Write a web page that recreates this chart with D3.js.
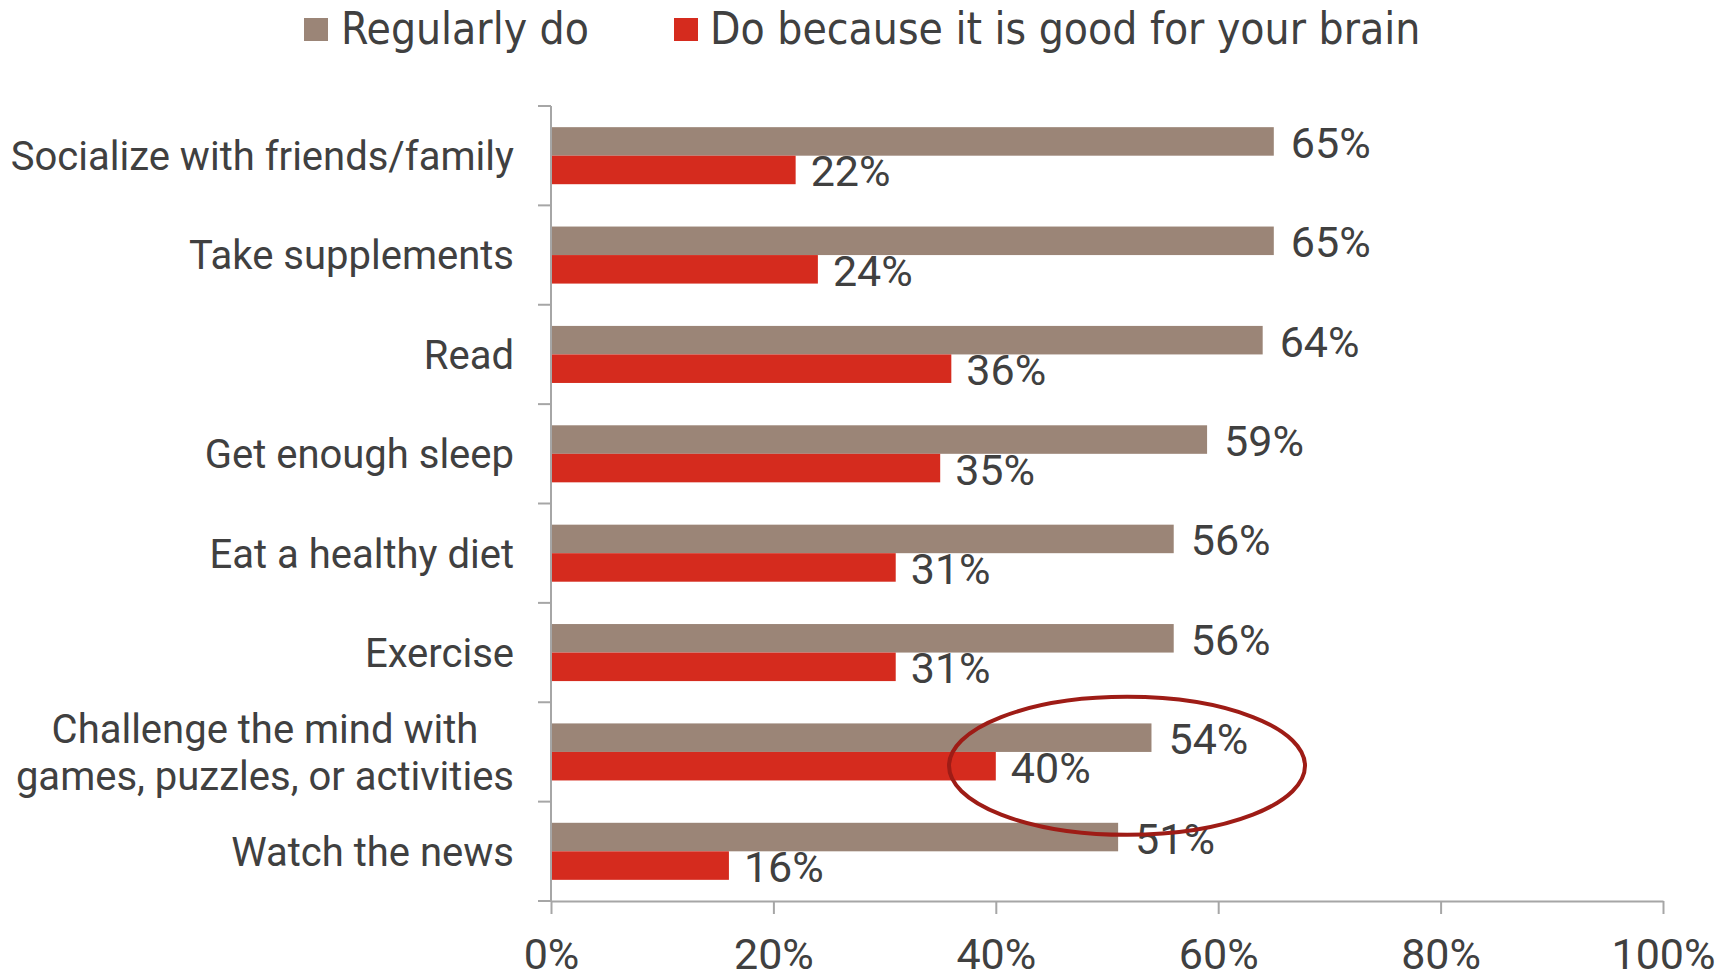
<!DOCTYPE html>
<html>
<head>
<meta charset="utf-8">
<script src="https://cdn.jsdelivr.net/npm/d3@7"></script>
<style>
  html, body { margin: 0; padding: 0; background: #fff; }
  svg { display: block; }
  .lbl { font-family: Roboto, "Open Sans", sans-serif; fill: #404040; }
  .leg { font-family: "Liberation Sans Narrow", "DejaVu Sans Condensed", sans-serif; fill: #404040; }
</style>
</head>
<body>
<svg id="chart" width="1729" height="980"></svg>
<script>
// Activities, top to bottom
const categories = [
  "Socialize with friends/family",
  "Take supplements",
  "Read",
  "Get enough sleep",
  "Eat a healthy diet",
  "Exercise",
  "Challenge the mind with\ngames, puzzles, or activities",
  "Watch the news"
];
const seriesNames = ["Regularly do", "Do because it is good for your brain"];
const regularlyDo = [65, 65, 64, 59, 56, 56, 54, 51];
const forBrain = [22, 24, 36, 35, 31, 31, 40, 16];
const xTicks = [0, 20, 40, 60, 80, 100];
const highlighted = "Challenge the mind with\ngames, puzzles, or activities";

const colors = { "Regularly do": "#9b8577", "Do because it is good for your brain": "#d52b1e" };
const textColor = "#404040";
const axisColor = "#a6a6a6";

const svg = d3.select("#chart");
const plot = { left: 551, right: 1663, top: 106, bottom: 901 };

const x = d3.scaleLinear().domain([0, 100]).range([plot.left, plot.right]);
const y = d3.scaleBand().domain(categories).range([plot.top, plot.bottom]).padding(0);
const ySub = d3.scaleBand().domain(seriesNames)
  .range([y.bandwidth() * 0.213, y.bandwidth() * 0.787]).padding(0);

const rows = categories.map((c, i) => ({ cat: c, values: [
  { s: seriesNames[0], v: regularlyDo[i] },
  { s: seriesNames[1], v: forBrain[i] }
]}));

// Bars
const g = svg.append("g");
const rowG = g.selectAll("g.row").data(rows).join("g")
  .attr("class", "row")
  .attr("transform", d => `translate(0,${y(d.cat)})`);

rowG.selectAll("rect").data(d => d.values).join("rect")
  .attr("x", x(0))
  .attr("y", d => ySub(d.s))
  .attr("width", d => x(d.v) - x(0))
  .attr("height", ySub.bandwidth())
  .attr("fill", d => colors[d.s]);

// Value labels
rowG.selectAll("text.val").data(d => d.values).join("text")
  .attr("class", "lbl val")
  .attr("x", d => x(d.v) + (d.s === seriesNames[0] ? 17 : 15))
  .attr("y", d => ySub(d.s) + ySub.bandwidth() / 2 + 1)
  .attr("dy", "0.36em")
  .attr("font-size", 43)
  .text(d => d.v + "%");

// Y axis line and boundary ticks
svg.append("line")
  .attr("x1", x(0)).attr("x2", x(0))
  .attr("y1", plot.top).attr("y2", plot.bottom)
  .attr("stroke", axisColor).attr("stroke-width", 2);
const bounds = categories.map(c => y(c)).concat([y(categories[categories.length - 1]) + y.step()]);
svg.selectAll("line.ytick").data(bounds).join("line")
  .attr("class", "ytick")
  .attr("x1", x(0) - 13).attr("x2", x(0))
  .attr("y1", d => d).attr("y2", d => d)
  .attr("stroke", axisColor).attr("stroke-width", 2);

// Category labels: multi-line labels are centred among themselves, block right-aligned
const labelRight = 514;
const lineH = 47;
categories.forEach(c => {
  const lines = c.split("\n");
  const cy = y(c) + y.bandwidth() / 2;
  const t = svg.append("text").attr("class", "lbl").attr("font-size", 40);
  lines.forEach((ln, i) => {
    t.append("tspan").attr("y", cy + (i - (lines.length - 1) / 2) * lineH).attr("dy", "0.36em").text(ln);
  });
  if (lines.length === 1) {
    t.attr("text-anchor", "end").selectAll("tspan").attr("x", labelRight);
  } else {
    const w = d3.max(t.selectAll("tspan").nodes(), n => n.getComputedTextLength());
    t.attr("text-anchor", "middle").selectAll("tspan").attr("x", labelRight - w / 2);
  }
});

// X axis
const xAxis = svg.append("g")
  .attr("transform", `translate(0,${plot.bottom})`)
  .call(d3.axisBottom(x).tickValues(xTicks).tickSize(13).tickSizeOuter(0).tickPadding(24)
    .tickFormat(d => d + "%"));
xAxis.select(".domain").attr("stroke", axisColor).attr("stroke-width", 2);
xAxis.selectAll(".tick line").attr("stroke", axisColor).attr("stroke-width", 2);
xAxis.selectAll(".tick text")
  .attr("class", "lbl")
  .attr("fill", textColor)
  .attr("font-size", 43);

// Highlight ellipse around the "challenge the mind" row
svg.append("ellipse")
  .attr("cx", x(51.8))
  .attr("cy", y(highlighted) + y.bandwidth() * 0.64)
  .attr("rx", 178)
  .attr("ry", 69)
  .attr("fill", "none")
  .attr("stroke", "#9e1c16")
  .attr("stroke-width", 4);

// Legend
const legend = svg.append("g");
const legendItems = [
  { s: seriesNames[0], sx: 304, tx: 341 },
  { s: seriesNames[1], sx: 674, tx: 710 }
];
legendItems.forEach(it => {
  legend.append("rect")
    .attr("x", it.sx).attr("y", 18).attr("width", 24).attr("height", 23)
    .attr("fill", colors[it.s]);
  legend.append("text")
    .attr("class", "leg")
    .attr("x", it.tx).attr("y", 44)
    .attr("font-size", 44)
    .text(it.s);
});
</script>
</body>
</html>
